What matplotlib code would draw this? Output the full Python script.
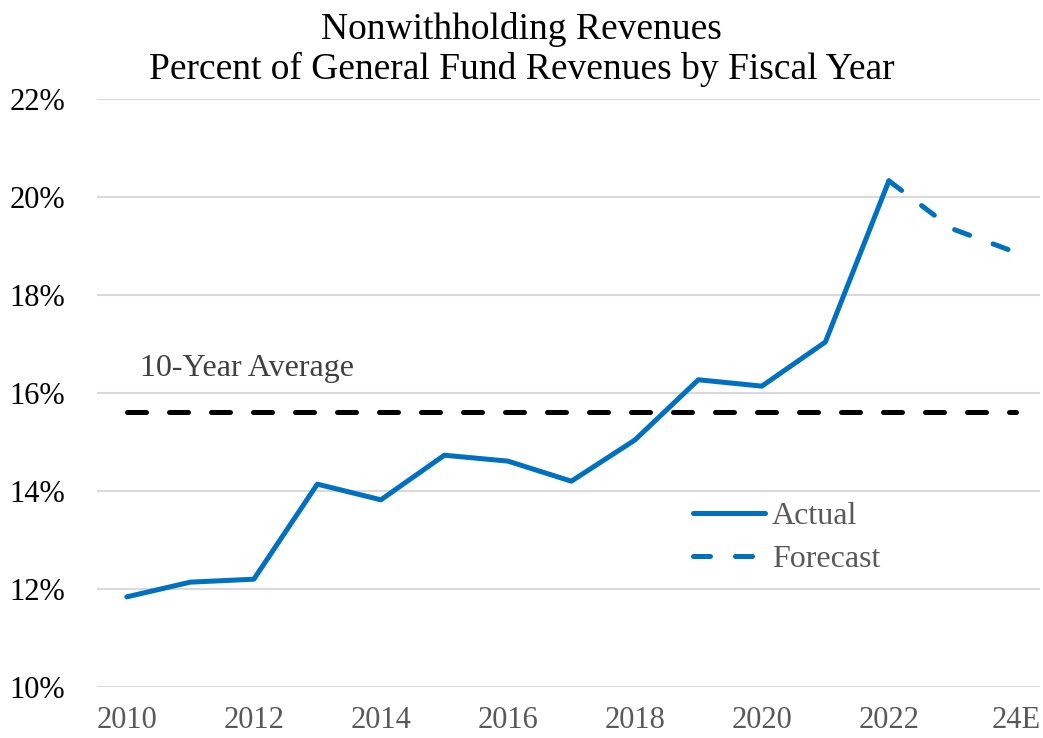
import matplotlib
matplotlib.use("Agg")
import matplotlib.pyplot as plt
from matplotlib.lines import Line2D

years = [2010, 2011, 2012, 2013, 2014, 2015, 2016, 2017, 2018, 2019, 2020, 2021, 2022]
actual = [11.84, 12.14, 12.2, 14.14, 13.82, 14.73, 14.61, 14.2, 15.04, 16.27, 16.14, 17.04, 20.33]
forecast_years = [2022, 2023, 2024]
forecast = [20.33, 19.35, 18.87]
avg_value = 15.62
xtick_pos = [2010, 2012, 2014, 2016, 2018, 2020, 2022, 2024]
xtick_labels = ["2010", "2012", "2014", "2016", "2018", "2020", "2022", "24E"]
ytick_vals = [10, 12, 14, 16, 18, 20, 22]

plt.rcParams['font.family'] = ['Liberation Serif', 'DejaVu Serif']
blue = "#0070C0"
LW = 3.6

fig = plt.figure(figsize=(10.43, 7.38), dpi=100)
ax = fig.add_axes([97/1043, 1 - 687/738, (1040-97)/1043, (687-99)/738])

ax.plot([2010, 2024], [avg_value, avg_value], color='black', lw=LW, dashes=(3.8, 4.6),
        dash_capstyle='round', zorder=2)
ax.plot(years, actual, color=blue, lw=LW, solid_capstyle='round', solid_joinstyle='round', zorder=3)
ax.plot(forecast_years, forecast, color=blue, lw=LW, dashes=(3.2, 5.0), dash_capstyle='round',
        dash_joinstyle='round', zorder=3)

ax.text(2010.2, 16.2, "10-Year Average", fontsize=23, color='#404040', ha='left', va='bottom')

ax.set_xlim(2009.53, 2024.38)
ax.set_ylim(10, 22)
ax.set_yticks(ytick_vals)
ax.set_yticklabels([f"{v}%" for v in ytick_vals], fontsize=22, color='black')
ax.set_xticks(xtick_pos)
ax.set_xticklabels(xtick_labels, fontsize=22, color='#595959')
ax.tick_params(axis='both', length=0)
ax.tick_params(axis='y', pad=23)
ax.tick_params(axis='x', pad=14)
for s in ax.spines.values():
    s.set_visible(False)
ax.grid(axis='y', color='#d9d9d9', lw=1.5)
ax.set_axisbelow(True)

handles = [Line2D([], [], color=blue, lw=LW, solid_capstyle='round'),
           Line2D([], [], color=blue, lw=LW, dashes=(3.4, 5.0), dash_capstyle='round')]
leg = ax.legend(handles, ["Actual", "Forecast"], loc='center left',
                bbox_to_anchor=((693-97)/943, (687-538)/588), frameon=False,
                fontsize=23, handlelength=2.26, handletextpad=0.2, labelspacing=0.42,
                borderaxespad=0, borderpad=0)
for t in leg.get_texts():
    t.set_color('#595959')

fig.text(0.5, 1 - 12/738, "Nonwithholding Revenues\nPercent of General Fund Revenues by Fiscal Year",
         ha='center', va='top', fontsize=27, linespacing=1.17)

fig.savefig("out.png", dpi=100)
